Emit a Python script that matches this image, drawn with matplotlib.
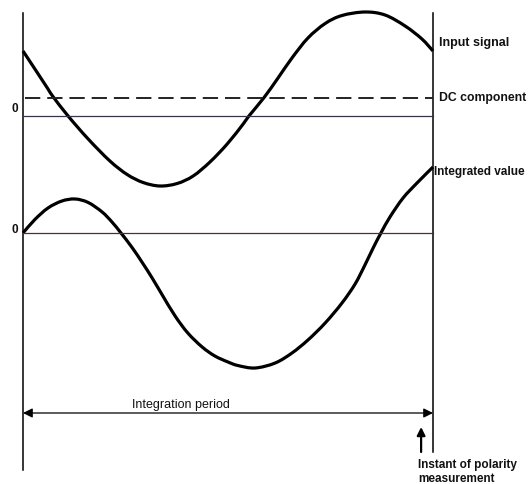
import matplotlib
matplotlib.use("Agg")
import matplotlib.pyplot as plt
from matplotlib.path import Path
from matplotlib.patches import PathPatch
import numpy as np

plt.rcParams['font.family'] = ['Liberation Sans', 'DejaVu Sans']
plt.rcParams['lines.scale_dashes'] = False

# time as a fraction of the integration period
t_input = [0.000, 0.029, 0.061, 0.073, 0.110, 0.159, 0.212, 0.254, 0.293, 0.334,
           0.376, 0.415, 0.456, 0.498, 0.537, 0.551, 0.588, 0.622, 0.656, 0.695,
           0.737, 0.778, 0.834, 0.883, 0.932, 0.973, 1.000]
input_signal = [6.5, 4.7, 2.7, 1.95, 0.0, -2.3, -4.5, -5.85, -6.65, -7.0,
                -6.75, -6.0, -4.6, -2.8, -0.8, 0.0, 1.85, 3.8, 5.8, 7.8,
                9.25, 10.05, 10.4, 10.1, 9.0, 7.7, 6.5]
dc_component = 1.8

t_integ = [0.000, 0.029, 0.061, 0.095, 0.127, 0.159, 0.193, 0.217, 0.239, 0.266,
           0.290, 0.315, 0.339, 0.371, 0.402, 0.437, 0.468, 0.500, 0.524, 0.566,
           0.615, 0.656, 0.695, 0.737, 0.778, 0.810, 0.834, 0.854, 0.873, 0.895,
           0.927, 0.961, 1.000]
integrated = [0.0, 1.35, 2.5, 3.2, 3.4, 3.05, 2.1, 1.1, 0.0, -1.45,
              -2.9, -4.5, -6.15, -8.3, -10.0, -11.4, -12.3, -12.9, -13.25, -13.5,
              -13.0, -12.0, -10.7, -9.0, -7.0, -5.1, -3.2, -1.5, 0.0, 1.6,
              3.5, 5.0, 6.6]

t_measure = 0.971

# layout (axes units: figure pixels / 10, downward negative)
IN_ZERO = -11.6
INT_ZERO = -23.3


def smooth_path(x, y):
    # cubic bezier segments through the points (catmull-rom tangents)
    p = np.column_stack([x, y])
    verts = [p[0]]
    codes = [Path.MOVETO]
    n = len(p)
    for i in range(n - 1):
        p0 = p[max(i - 1, 0)]
        p1 = p[i]
        p2 = p[i + 1]
        p3 = p[min(i + 2, n - 1)]
        c1 = p1 + (p2 - p0) / 6.0
        c2 = p2 - (p3 - p1) / 6.0
        verts += [c1, c2, p2]
        codes += [Path.CURVE4] * 3
    return Path(verts, codes)


fig = plt.figure(figsize=(5.28, 4.84), dpi=100)
ax = fig.add_axes([0, 0, 1, 1])
ax.set_xlim(-23 / 410, 505 / 410)
ax.set_ylim(-48.4, 0)
ax.axis('off')

# frame lines at start/end of period
ax.plot([0, 0], [-1.3, -47.0], color='black', lw=1.1)
ax.plot([1, 1], [-1.3, -45.2], color='black', lw=1.1)

# zero lines
ax.plot([0, 1], [IN_ZERO, IN_ZERO], color='#333355', lw=0.9)
ax.plot([0, 1], [INT_ZERO, INT_ZERO], color='#443333', lw=0.9)

# DC component
ax.plot([0.005, 1], [IN_ZERO + dc_component] * 2, color='#222222', lw=1.4,
        dashes=(11, 5))

# curves
ax.add_patch(PathPatch(smooth_path(t_input, np.array(input_signal) + IN_ZERO),
                       facecolor='none', edgecolor='black', lw=2.3,
                       capstyle='butt', joinstyle='round'))
ax.add_patch(PathPatch(smooth_path(t_integ, np.array(integrated) + INT_ZERO),
                       facecolor='none', edgecolor='black', lw=2.3,
                       capstyle='butt', joinstyle='round'))

# integration period arrow
ax.annotate('', xy=(1, -41.3), xytext=(0, -41.3),
            arrowprops=dict(arrowstyle='<|-|>', color='black', lw=0.9,
                            mutation_scale=14, shrinkA=0, shrinkB=0))
ax.text(0.385, -40.5, 'Integration period', fontsize=9, ha='center', va='center',
        color='#111111')

# polarity measurement arrow
ax.annotate('', xy=(t_measure, -42.7), xytext=(t_measure, -45.2),
            arrowprops=dict(arrowstyle='-|>', color='black', lw=1.6,
                            mutation_scale=12, shrinkA=0, shrinkB=0))
ax.text(0.963, -47.2, 'Instant of polarity\nmeasurement', fontsize=8.5,
        fontweight='bold', ha='left', va='center', linespacing=1.2,
        color='#111111')

# labels
ax.text(1.015, -4.3, 'Input signal', fontsize=9, fontweight='bold',
        ha='left', va='center', color='#111111')
ax.text(1.015, -9.8, 'DC component', fontsize=8.8, fontweight='bold',
        ha='left', va='center', color='#111111')
ax.text(1.003, -17.2, 'Integrated value', fontsize=8.5, fontweight='bold',
        ha='left', va='center', color='#111111')
ax.text(-0.012, -10.9, '0', fontsize=8.5, fontweight='bold', ha='right',
        va='center', color='#111111')
ax.text(-0.012, -23.0, '0', fontsize=8.5, fontweight='bold', ha='right',
        va='center', color='#111111')

fig.savefig('out.png', dpi=100, facecolor='white')
